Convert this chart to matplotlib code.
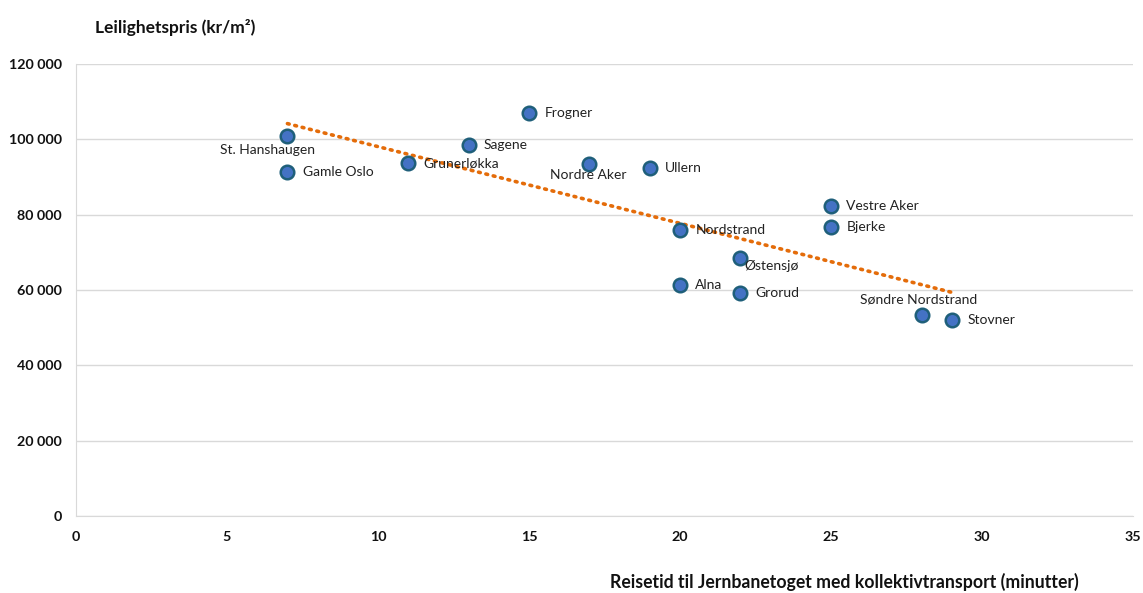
import numpy as np
import matplotlib
matplotlib.use("Agg")
import matplotlib.pyplot as plt
from matplotlib.ticker import FuncFormatter

plt.rcParams['font.family'] = ['Lato', 'DejaVu Sans']

# District data: travel time to Jernbanetorget (min) and apartment price (kr/m²)
districts = ["St. Hanshaugen", "Gamle Oslo", "Grunerløkka", "Sagene", "Frogner",
             "Nordre Aker", "Ullern", "Vestre Aker", "Bjerke", "Nordstrand",
             "Østensjø", "Alna", "Grorud", "Søndre Nordstrand", "Stovner"]
travel_min = [7, 7, 11, 13, 15, 17, 19, 25, 25, 20, 22, 20, 22, 28, 29]
price = [100800, 91300, 93700, 98500, 107000, 93400, 92400, 82300, 76700,
         75900, 68500, 61300, 59200, 53400, 52000]

# label placement (offset in points, horizontal alignment)
label_pos = {
    "St. Hanshaugen": ((-14, -10), "center"),
    "Nordre Aker": ((-1, -8), "center"),
    "Østensjø": ((3, -6), "left"),
    "Søndre Nordstrand": ((-2, 11), "center"),
}

fig = plt.figure(figsize=(11.43, 5.93), dpi=100)
ax = fig.add_axes([0.0665, 0.1298, 0.9248, 0.7622])

# linear trend line
coef = np.polyfit(travel_min, price, 1)
xt = np.array([min(travel_min), max(travel_min)])
ax.plot(xt, np.polyval(coef, xt), linestyle=(0, (0.5, 1.6)), color="#E46C0A",
        linewidth=2.6, dash_capstyle="round", zorder=2)

ax.scatter(travel_min, price, s=95, color="#4472C4", edgecolor="#1F5F7A",
           linewidth=1.8, zorder=3)

for name, x, y in zip(districts, travel_min, price):
    off, ha = label_pos.get(name, ((11, 0), "left"))
    ax.annotate(name, (x, y), xytext=off, textcoords="offset points",
                ha=ha, va="center", fontsize=10, color="#222222", zorder=4)

ax.set_xlim(0, 35)
ax.set_ylim(0, 120000)
ax.set_xticks(range(0, 36, 5))
ax.set_yticks(range(0, 120001, 20000))
ax.yaxis.set_major_formatter(FuncFormatter(lambda v, p: f"{int(v):,}".replace(",", " ")))
ax.grid(axis="y", color="#D9D9D9", linewidth=1.0)
ax.set_axisbelow(True)
for s in ["top", "right"]:
    ax.spines[s].set_visible(False)
ax.spines["left"].set_color("#D9D9D9")
ax.spines["bottom"].set_color("#D9D9D9")
ax.tick_params(length=0, labelsize=10.3, colors="#111111")
ax.tick_params(axis="y", pad=10)
ax.tick_params(axis="x", pad=11)
for lbl in ax.get_xticklabels() + ax.get_yticklabels():
    lbl.set_fontweight("bold")

fig.text(0.083, 0.954, "Leilighetspris (kr/m²)", fontsize=12.5, fontweight="bold",
         ha="left", va="center", color="#111111")
fig.text(0.739, 0.018, "Reisetid til Jernbanetoget med kollektivtransport (minutter)",
         fontsize=12.7, fontweight="bold", ha="center", va="center", color="#111111")

fig.savefig("out.png", dpi=100)
